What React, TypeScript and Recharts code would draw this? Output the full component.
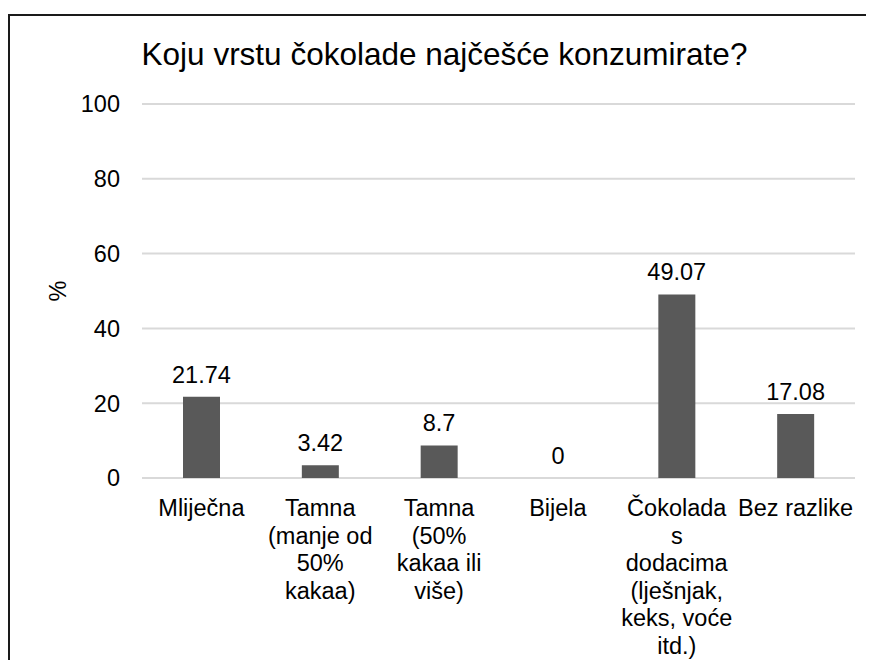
import { Bar, CartesianGrid, ComposedChart, LabelList, Line, XAxis, YAxis } from 'recharts';

const categories = [
  'Mliječna',
  'Tamna\n(manje od\n50%\nkakaa)',
  'Tamna\n(50%\nkakaa ili\nviše)',
  'Bijela',
  'Čokolada\ns\ndodacima\n(lješnjak,\nkeks, voće\nitd.)',
  'Bez razlike',
];
const percentages = [21.74, 3.42, 8.7, 0, 49.07, 17.08];
const yTicks = [0, 20, 40, 60, 80, 100];

const title = 'Koju vrstu čokolade najčešće konzumirate?';
const yLabel = '%';

const data = categories.map((name, i) => ({ name, value: percentages[i] }));

const FONT = '"Liberation Sans", Arial, sans-serif';
const TEXT_SIZE = 23.5;
const W = 858;
const H = 644;

const CategoryTick = ({ x, y, payload }: any) => {
  const lines = String(payload.value).split('\n');
  return (
    <text x={x} y={y + 30} textAnchor="middle" fill="#000" fontSize={TEXT_SIZE} fontFamily={FONT}>
      {lines.map((line, i) => (
        <tspan key={i} x={x} dy={i === 0 ? 0 : 27.6}>
          {line}
        </tspan>
      ))}
    </text>
  );
};

const ValueTick = ({ x, y, payload }: any) => (
  <text
    x={x}
    y={y}
    dy="0.355em"
    textAnchor="end"
    fill="#000"
    fontSize={TEXT_SIZE}
    fontFamily={FONT}
  >
    {payload.value}
  </text>
);

export default function App() {
  return (
    <div style={{ paddingTop: 6 }}>
      <div
        style={{
          position: 'relative',
          width: 866,
          height: 646,
          boxSizing: 'border-box',
          borderTop: '2px solid #1a1a1a',
          borderLeft: '2px solid #1a1a1a',
          background: '#fff',
        }}
      >
        <ComposedChart
          width={W}
          height={H}
          data={data}
          margin={{ top: 88, right: 13, left: 0, bottom: 0 }}
          barSize={37}
        >
          <CartesianGrid vertical={false} stroke="#d9d9d9" strokeWidth={2} />
          <XAxis
            dataKey="name"
            axisLine={false}
            tickLine={false}
            interval={0}
            height={182}
            tick={<CategoryTick />}
          />
          <YAxis
            domain={[0, 100]}
            ticks={yTicks}
            width={132}
            axisLine={false}
            tickLine={false}
            tickMargin={16}
            tick={<ValueTick />}
          />
          <Bar dataKey="value" fill="#595959" isAnimationActive={false} />
          {/* invisible line only carries the value labels, so 0 gets one too */}
          <Line
            dataKey="value"
            stroke="none"
            dot={false}
            activeDot={false}
            isAnimationActive={false}
          >
            <LabelList
              dataKey="value"
              position="top"
              offset={14}
              fill="#000"
              fontSize={TEXT_SIZE}
              fontFamily={FONT}
            />
          </Line>
        </ComposedChart>
        <svg
          width={W}
          height={H}
          style={{ position: 'absolute', left: 0, top: 0, pointerEvents: 'none' }}
        >
          <text x={434.5} y={49} textAnchor="middle" fontSize={31.5} fontFamily={FONT} fill="#000">
            {title}
          </text>
          <text
            x={48}
            y={275}
            textAnchor="middle"
            dominantBaseline="central"
            fontSize={TEXT_SIZE}
            fontFamily={FONT}
            fill="#000"
            transform="rotate(-90 48 275)"
          >
            {yLabel}
          </text>
        </svg>
      </div>
    </div>
  );
}
